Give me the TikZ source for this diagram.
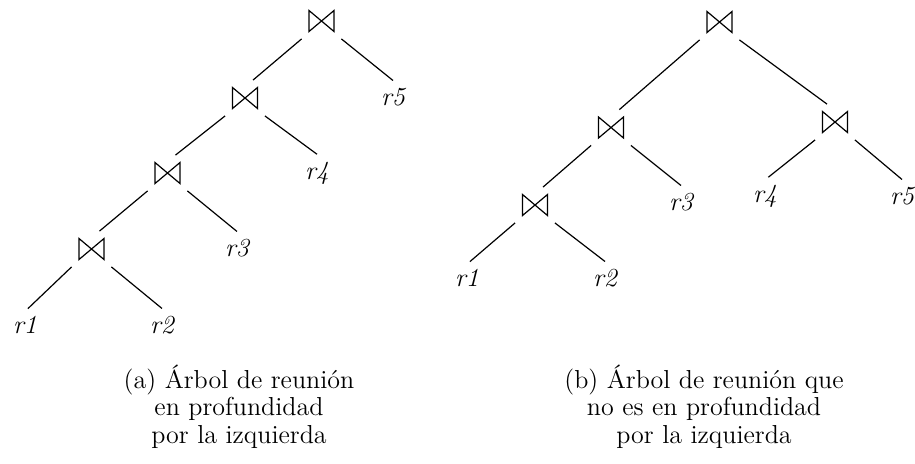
\documentclass[tikz,border=0pt]{standalone}
\newcommand{\joinglyph}{\tikz{\draw[line width=0.6pt] (0pt,0pt) -- (0pt,10.5pt) -- (12.5pt,0pt) -- (12.5pt,10.5pt) -- cycle;}}
\begin{document}
\begin{tikzpicture}[x=0.5pt, y=-0.5pt, line width=0.6pt,
  joinop/.style={inner sep=3.2pt},
  rel/.style={inner sep=3.5pt,font=\fontsize{13}{14}\selectfont\itshape},
  caption/.style={align=center,anchor=base,font=\fontsize{13}{13.75}\selectfont}]
\useasboundingbox (0,0) rectangle (915,463);
% (a) left-deep tree
\node[joinop] (a1) at (321.5,21) {\joinglyph};
\node[joinop] (a2) at (245,98) {\joinglyph};
\node[joinop] (a3) at (167.5,173) {\joinglyph};
\node[joinop] (a4) at (91.5,249) {\joinglyph};
\node[rel] (ar1) at (25,325) {r1};
\node[rel] (ar2) at (162,325) {r2};
\node[rel] (ar3) at (237,248) {r3};
\node[rel] (ar4) at (317,173) {r4};
\node[rel] (ar5) at (393,97) {r5};
\draw (a1.south west) -- (a2.66);
\draw (a1.south east) -- (ar5.north);
\draw (a2.south west) -- (a3.66);
\draw (a2.south east) -- (ar4.north);
\draw (a3.south west) -- (a4.66);
\draw (a3.south east) -- (ar3.north);
\draw (a4.south west) -- (ar1.80);
\draw (a4.south east) -- (ar2.north);
% (b) bushy tree
\node[joinop] (b1) at (719.5,22) {\joinglyph};
\node[joinop] (b2) at (611,127.5) {\joinglyph};
\node[joinop] (b3) at (835,122) {\joinglyph};
\node[joinop] (b4) at (535,205) {\joinglyph};
\node[rel] (br1) at (467,278) {r1};
\node[rel] (br2) at (605,278) {r2};
\node[rel] (br3) at (681,202) {r3};
\node[rel] (br4) at (765,196) {r4};
\node[rel] (br5) at (902,196) {r5};
\draw (b1.south west) -- (b2.65);
\draw (b1.south east) -- (b3.114);
\draw (b2.south west) -- (b4.66);
\draw (b2.south east) -- (br3.north);
\draw (b3.south west) -- (br4.80);
\draw (b3.south east) -- (br5.north);
\draw (b4.south west) -- (br1.80);
\draw (b4.south east) -- (br2.north);
% captions
\node[caption] (capa) at (239,443) {(a) Árbol de reunión\\en profundidad\\por la izquierda};
\node[caption] (capb) at (704,443) {(b) Árbol de reunión que\\no es en profundidad\\por la izquierda};
\end{tikzpicture}
\end{document}
